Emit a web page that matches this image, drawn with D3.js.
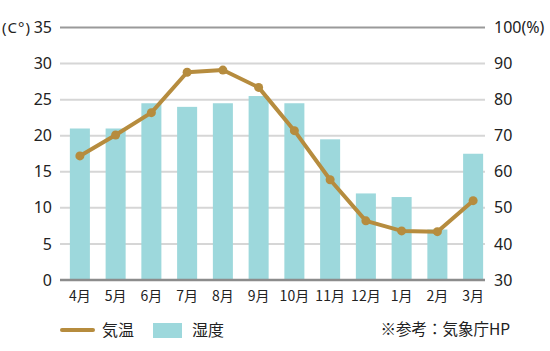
<!DOCTYPE html>
<html>
<head>
<meta charset="utf-8">
<script src="https://cdn.jsdelivr.net/npm/d3@7"></script>
<style>
  body { margin: 0; background: #fff; }
  text { font-family: "Noto Sans CJK JP", "Noto Sans", sans-serif; fill: #222; }
</style>
</head>
<body>
<div id="chart"></div>
<script>
const months = ["4月", "5月", "6月", "7月", "8月", "9月", "10月", "11月", "12月", "1月", "2月", "3月"];
const temperature = [17.2, 20.1, 23.2, 28.8, 29.1, 26.7, 20.7, 13.9, 8.2, 6.8, 6.7, 11.0];
const humidity = [72, 72, 79, 78, 79, 81, 79, 69, 54, 53, 44, 65];
const tempTicks = [0, 5, 10, 15, 20, 25, 30, 35];
const humTicks = [30, 40, 50, 60, 70, 80, 90, 100];

const width = 550, height = 351;
const plot = { left: 60, right: 485, top: 27.5, bottom: 280 };
const gold = "#b68c3e";
const teal = "#9dd8dc";

const svg = d3.select("#chart").append("svg")
  .attr("width", width)
  .attr("height", height);

const x = d3.scaleBand()
  .domain(months)
  .range([62, 491])
  .paddingInner(0.44)
  .paddingOuter(0.22);

const yT = d3.scaleLinear().domain([0, 35]).range([plot.bottom, plot.top]);
const yH = d3.scaleLinear().domain([30, 100]).range([plot.bottom, plot.top]);

// grid lines
svg.append("g")
  .selectAll("line")
  .data(tempTicks.slice(1))
  .join("line")
  .attr("x1", plot.left)
  .attr("x2", plot.right)
  .attr("y1", d => yT(d))
  .attr("y2", d => yT(d))
  .attr("stroke", d => d === 35 ? "#9a9a9a" : "#d6d6d6")
  .attr("stroke-width", 2);

// left axis
const leftAxis = svg.append("g")
  .attr("transform", `translate(${plot.left},0)`)
  .call(d3.axisLeft(yT).tickValues(tempTicks).tickSize(0).tickPadding(8));
leftAxis.select(".domain").remove();
leftAxis.selectAll("text").attr("font-size", 16).style("font-family", "Noto Sans, sans-serif").attr("fill", "#222");

svg.append("text")
  .attr("x", 2)
  .attr("y", yT(35))
  .attr("dy", "0.34em")
  .attr("font-size", 15)
  .attr("letter-spacing", 1)
  .style("font-family", "Noto Sans, sans-serif")
  .text("(C°)");

// right axis
const rightAxis = svg.append("g")
  .attr("transform", `translate(${plot.right},0)`)
  .call(d3.axisRight(yH).tickValues(humTicks).tickSize(0).tickPadding(9));
rightAxis.select(".domain").remove();
rightAxis.selectAll("text").attr("font-size", 16).style("font-family", "Noto Sans, sans-serif").attr("fill", "#222")
  .text(d => d === 100 ? "100(%)" : d);

// bars
svg.append("g")
  .selectAll("rect")
  .data(humidity)
  .join("rect")
  .attr("x", (d, i) => x(months[i]))
  .attr("width", x.bandwidth())
  .attr("y", d => yH(d))
  .attr("height", d => yH(30) - yH(d))
  .attr("fill", teal);

// bottom axis line
svg.append("line")
  .attr("x1", plot.left)
  .attr("x2", plot.right)
  .attr("y1", plot.bottom)
  .attr("y2", plot.bottom)
  .attr("stroke", "#8c8c8c")
  .attr("stroke-width", 2.5);

// month labels
const bottomAxis = svg.append("g")
  .attr("transform", `translate(0,${plot.bottom})`)
  .call(d3.axisBottom(x).tickSize(0).tickPadding(11));
bottomAxis.select(".domain").remove();
bottomAxis.selectAll("text").attr("font-size", 14).attr("fill", "#222");

// temperature line
const line = d3.line()
  .x((d, i) => x(months[i]) + x.bandwidth() / 2)
  .y(d => yT(d));

svg.append("path")
  .datum(temperature)
  .attr("d", line)
  .attr("fill", "none")
  .attr("stroke", gold)
  .attr("stroke-width", 4)
  .attr("stroke-linejoin", "round");

svg.append("g")
  .selectAll("circle")
  .data(temperature)
  .join("circle")
  .attr("cx", (d, i) => x(months[i]) + x.bandwidth() / 2)
  .attr("cy", d => yT(d))
  .attr("r", 4.5)
  .attr("fill", gold);

// legend
const legend = svg.append("g");
legend.append("line")
  .attr("x1", 62).attr("x2", 93)
  .attr("y1", 330).attr("y2", 330)
  .attr("stroke", gold)
  .attr("stroke-width", 4)
  .attr("stroke-linecap", "round");
legend.append("text")
  .attr("x", 102).attr("y", 330).attr("dy", "0.35em")
  .attr("font-size", 16)
  .text("気温");
legend.append("rect")
  .attr("x", 153).attr("y", 323)
  .attr("width", 29).attr("height", 15)
  .attr("fill", teal);
legend.append("text")
  .attr("x", 192).attr("y", 330).attr("dy", "0.35em")
  .attr("font-size", 16)
  .text("湿度");
legend.append("text")
  .attr("x", 510).attr("y", 330).attr("dy", "0.35em")
  .attr("text-anchor", "end")
  .attr("font-size", 15.5)
  .text("※参考：気象庁HP");
</script>
</body>
</html>
